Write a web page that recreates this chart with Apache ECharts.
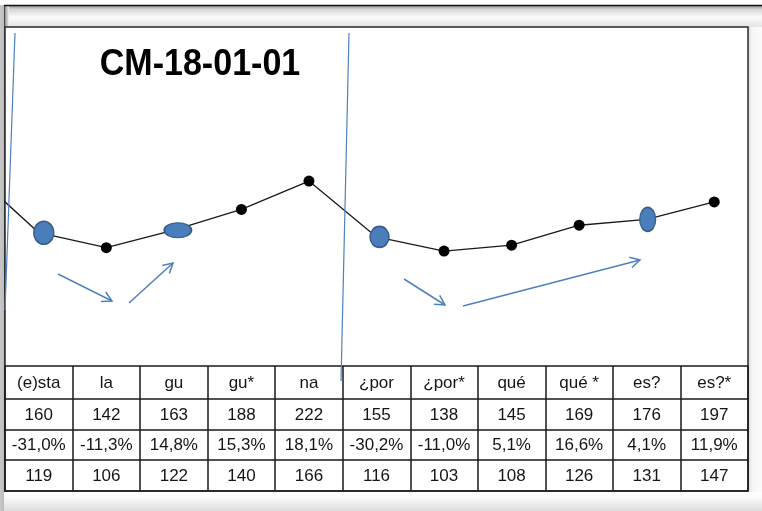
<!DOCTYPE html>
<html><head><meta charset="utf-8">
<script src="https://cdn.jsdelivr.net/npm/echarts@6/dist/echarts.min.js"></script>
<style>html,body{margin:0;padding:0;background:#fff}#c{width:762px;height:511px}</style>
</head><body><div id="c"></div>
<script>
// ---- data ----
const titleText = 'CM-18-01-01';
const syllables = ['(e)sta','la','gu','gu*','na','¿por','¿por*','qué','qué *','es?','es?*'];
const f0Hz = [160,142,163,188,222,155,138,145,169,176,197];
const changePct = [-31.0,-11.3,14.8,15.3,18.1,-30.2,-11.0,5.1,16.6,4.1,11.9];
const thirdRow = [119,106,122,140,166,116,103,108,126,131,147];
const precedingF0 = 234; // contour value before the first syllable (off-chart)
const stressedIdx = [0,2,5,9];

// ---- styles (kept apart from data) ----
const ellipseStyle = {
  0:{size:[20,23],offset:[5,0]},
  2:{size:[27,15],offset:[4,0]},
  5:{size:[19,21],offset:[3,0]},
  9:{size:[16,24],offset:[1,0]}
};
const FONT = "'Liberation Sans', Arial, sans-serif";
const lineCol = '#1a1a1a';
const blue = '#4F81BD';

const pctLabels = changePct.map(v => v.toFixed(1).replace('.', ',') + '%');

const seriesData = [{value:[-1, precedingF0], symbol:'none'}].concat(
  f0Hz.map((v,i) => {
    if (stressedIdx.indexOf(i) >= 0) {
      const e = ellipseStyle[i];
      return {value:[i,v], symbolSize:e.size, symbolOffset:e.offset,
        itemStyle:{color:'#4A7EBB', borderColor:'#385D8A', borderWidth:1.5}};
    }
    return {value:[i,v]};
  })
);

const rowOffsets = [0, 33, 63.5, 94];
const rowHeights = [33, 30.5, 30.5, 30.5];
const rows = [syllables, f0Hz.map(String), pctLabels, thirdRow.map(String)];

const tableAxes = rows.map((r, k) => ({
  type:'category', gridIndex:0, position:'bottom', offset:rowOffsets[k],
  data:r, boundaryGap:true,
  axisLine:{show:true, lineStyle:{color:lineCol, width:1.5}},
  axisTick:{show:true, interval:0, length:rowHeights[k], lineStyle:{color:lineCol, width:1.5}},
  axisLabel:{show:true, interval:0, margin:rowHeights[k]/2 + 1, verticalAlign:'middle',
    fontSize:17, fontFamily:FONT, color:'#151515'},
  splitLine:{show:false}
}));
tableAxes.push({
  type:'category', gridIndex:0, position:'bottom', offset:124.5, data:syllables,
  axisLine:{show:true, lineStyle:{color:lineCol, width:1.5}},
  axisTick:{show:false}, axisLabel:{show:false}, splitLine:{show:false}
});

function arrow(x1,y1,x2,y2){
  const a = Math.atan2(y2-y1, x2-x1), L = 11, s = 0.5;
  const p1 = [x2 - L*Math.cos(a - s), y2 - L*Math.sin(a - s)];
  const p2 = [x2 - L*Math.cos(a + s), y2 - L*Math.sin(a + s)];
  return [
    {type:'line', z:50, shape:{x1,y1,x2,y2}, style:{stroke:blue, lineWidth:1.5}},
    {type:'polyline', z:50, shape:{points:[p1,[x2,y2],p2]}, style:{stroke:blue, lineWidth:1.5, fill:null}}
  ];
}

const graphics = [
  // window chrome
  {type:'rect', z:-10, shape:{x:4,y:5,width:758,height:22},
   style:{fill:new echarts.graphic.LinearGradient(0,0,0,1,[
     {offset:0,color:'#8a8a8a'},{offset:0.2,color:'#d6d6d6'},{offset:0.55,color:'#fbfbfb'},{offset:1,color:'#e4e4e4'}])}},
  {type:'rect', z:-10, shape:{x:748,y:27,width:14,height:470},
   style:{fill:new echarts.graphic.LinearGradient(0,0,1,0,[
     {offset:0,color:'#d8d8d8'},{offset:0.3,color:'#f6f6f6'},{offset:1,color:'#fbfbfb'}])}},
  {type:'rect', z:-10, shape:{x:0,y:5,width:9,height:506},
   style:{fill:new echarts.graphic.LinearGradient(0,0,1,0,[
     {offset:0,color:'#c8c8c8'},{offset:0.42,color:'#bdbdbd'},{offset:0.5,color:'#4a4a4a'},{offset:0.6,color:'#9a9a9a'},{offset:1,color:'#f4f4f4'}])}},
  {type:'rect', z:-10, shape:{x:4,y:492,width:758,height:19},
   style:{fill:new echarts.graphic.LinearGradient(0,0,0,1,[
     {offset:0,color:'#ffffff'},{offset:0.3,color:'#fafafa'},{offset:1,color:'#dcdcdc'}])}},
  {type:'line', z:-5, shape:{x1:4,y1:5.5,x2:762,y2:5.5}, style:{stroke:'#111', lineWidth:1.5}},
  {type:'rect', z:-5, shape:{x:5,y:27,width:743,height:464}, style:{fill:'#fff', stroke:'#2a2a2a', lineWidth:1.5}},
  // title
  {type:'text', z:60, x:200, y:65, scaleX:0.92,
   style:{text:titleText, x:0, y:0, align:'center', verticalAlign:'middle',
     font:"bold 37px 'Liberation Sans', Arial, sans-serif", fill:'#000'}},
  // vertical separators
  {type:'line', z:50, shape:{x1:15,y1:33,x2:5,y2:310}, style:{stroke:blue, lineWidth:1.2}},
  {type:'line', z:50, shape:{x1:349,y1:33,x2:341,y2:381}, style:{stroke:blue, lineWidth:1.2}}
].concat(arrow(58,274,112,301), arrow(129,303,173,263), arrow(404,279,445,305), arrow(463,306,640,260));

const chart = echarts.init(document.getElementById('c'), null, {renderer:'canvas'});
chart.setOption({
  animation:false,
  backgroundColor:'#fff',
  grid:{left:5, right:14, top:27, bottom:145, containLabel:false},
  xAxis:[{type:'value', min:-0.5, max:10.5, show:false, gridIndex:0}].concat(tableAxes),
  yAxis:{type:'value', min:0, max:407, show:false},
  series:[{
    type:'line', xAxisIndex:0, yAxisIndex:0, clip:true,
    data:seriesData,
    symbol:'circle', symbolSize:11,
    itemStyle:{color:'#000'},
    lineStyle:{color:lineCol, width:1.3},
    z:10
  }],
  graphic:graphics
});
</script></body></html>
